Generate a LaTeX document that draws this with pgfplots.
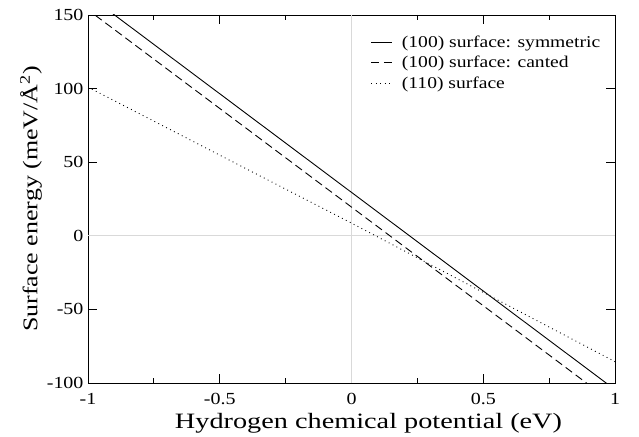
\documentclass[border=0pt]{standalone}
\usepackage{fontspec}
\setmainfont{Liberation Serif}
\usepackage{graphicx}
\usepackage{pgfplots}
\pgfplotsset{compat=1.18}
\newcommand\sx[1]{\scalebox{1.18}[1]{#1}}
\begin{document}
\begin{tikzpicture}
\begin{axis}[
  scale only axis, width=527bp, height=368bp,
  xmin=-1, xmax=1, ymin=-100, ymax=150,
  xtick={-1,-0.5,0,0.5,1}, minor xtick={-0.75,-0.25,0.25,0.75},
  ytick={-100,-50,0,50,100,150},
  xticklabels={\sx{-1},\sx{-0.5},\sx{0},\sx{0.5},\sx{1}},
  yticklabels={\sx{-100},\sx{-50},\sx{0},\sx{50},\sx{100},\sx{150}},
  tick align=inside, major tick length=9bp, minor tick length=5bp,
  tick style={black, line width=0.8pt},
  axis line style={line width=0.8pt},
  ticklabel style={font=\fontsize{17}{18}\selectfont},
  xticklabel style={yshift=-7bp},
  yticklabel style={xshift=-1bp},
  xlabel={\scalebox{1.29}[1]{Hydrogen chemical potential (eV)}},
  ylabel={\scalebox{1.24}[1]{Surface energy (meV/Å\textsuperscript{2})}},
  xlabel style={font=\fontsize{22}{24}\selectfont, xshift=17bp, yshift=-1bp},
  ylabel style={font=\fontsize{21}{24}\selectfont, yshift=-2bp},
  extra x ticks={0}, extra x tick labels={},
  extra y ticks={0}, extra y tick labels={},
  extra tick style={grid=major, major grid style={gray!30, line width=0.8pt}, major tick length=0pt},
  legend style={at={(rel axis cs:0.531,0.955)}, anchor=north west, draw=none, fill=none,
    font=\fontsize{16.5}{20}\selectfont, row sep=3.5bp,
    nodes={inner xsep=1bp}},
  legend cell align=left,
  legend image code/.code={\draw[#1] (0bp,0bp) -- (21bp,0bp);},
]
\addplot[black, line width=0.9pt] coordinates {(-1.2,190.3) (1.2,-131.3)};
\addlegendentry{\hspace{8bp}\scalebox{1.19}[1]{(100) surface: symmetric}}
\addplot[black, line width=0.9pt, dash pattern=on 8bp off 4.5bp] coordinates {(-1.2,180.3) (1.2,-141.3)};
\addlegendentry{\hspace{8bp}\scalebox{1.19}[1]{(100) surface: canted}}
\addplot[black, line width=0.9pt, dash pattern=on 0.9pt off 3.5bp] coordinates {(-1,101) (0,8.6) (1,-85.5)};
\addlegendentry{\hspace{8bp}\scalebox{1.19}[1]{(110) surface}}
\end{axis}
\path[use as bounding box] ([xshift=-88bp,yshift=-53bp]current axis.south west) rectangle ([xshift=24bp,yshift=15bp]current axis.north east);
\end{tikzpicture}
\end{document}
